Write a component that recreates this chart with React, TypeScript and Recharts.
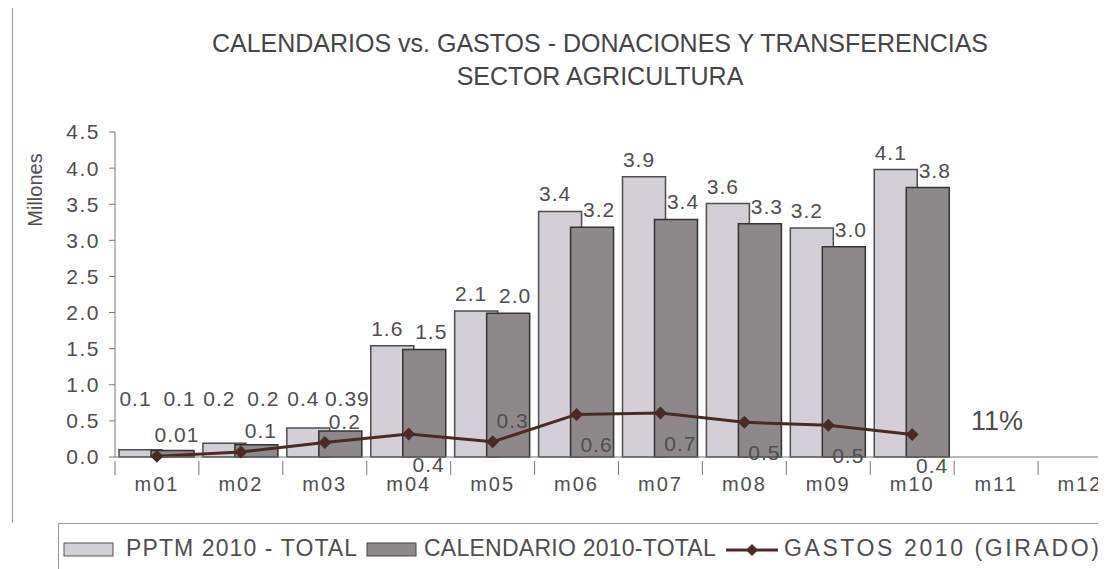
import { ComposedChart, Bar, Line, XAxis, YAxis, LabelList } from 'recharts';

const months = ['m01', 'm02', 'm03', 'm04', 'm05', 'm06', 'm07', 'm08', 'm09', 'm10', 'm11', 'm12'];
const pptm = [0.1, 0.19, 0.4, 1.54, 2.02, 3.4, 3.88, 3.51, 3.17, 3.98, null, null];
const calendario = [0.09, 0.17, 0.36, 1.49, 1.99, 3.18, 3.29, 3.23, 2.91, 3.73, null, null];
const gastos = [0.01, 0.07, 0.2, 0.32, 0.21, 0.59, 0.61, 0.48, 0.44, 0.31, null, null];
const pptmLabels = ['0.1', '0.2', '0.4', '1.6', '2.1', '3.4', '3.9', '3.6', '3.2', '4.1', '', ''];
const calLabels = ['0.1', '0.2', '0.39', '1.5', '2.0', '3.2', '3.4', '3.3', '3.0', '3.8', '', ''];
const gastosLabels = ['0.01', '0.1', '0.2', '0.4', '0.3', '0.6', '0.7', '0.5', '0.5', '0.4', '', ''];
const yTicks = [0, 0.5, 1, 1.5, 2, 2.5, 3, 3.5, 4, 4.5];

const data = months.map((m, i) => ({
  month: m,
  pptm: pptm[i],
  cal: calendario[i],
  gastos: gastos[i],
  pptmLabel: pptmLabels[i],
  calLabel: calLabels[i],
  gastosLabel: gastosLabels[i],
}));

const FONT = '"Liberation Sans", Arial, sans-serif';
const TEXT = '#4e4e4e';
const PPTM_FILL = '#d2cfd6';
const CAL_FILL = '#8d898b';
const LINE = '#4a2a24';
const BAND = (1114 - 107) / months.length;
const AXIS_Y = 449;

const XTick = (props: any) => {
  const { x, y, payload } = props;
  return (
    <g>
      <line x1={x - BAND / 2} x2={x - BAND / 2} y1={y - 4} y2={y + 10} stroke="#777" />
      <text x={x} y={y + 26} textAnchor="middle" fontSize={20} fill={TEXT} fontFamily={FONT} letterSpacing={2}>
        {payload.value}
      </text>
    </g>
  );
};

// bar labels sit above the bar, lifted clear of the line for the small bars
const makeBarLabel = (dx: number) => (props: any) => {
  const { x, y, width, value } = props;
  if (!value) return null;
  return (
    <text
      x={x + width / 2 + dx}
      y={Math.min(y - 10, 398)}
      textAnchor="middle"
      fontSize={21}
      fill={TEXT}
      fontFamily={FONT}
      letterSpacing={1}
    >
      {value}
    </text>
  );
};
const pptmLabel = makeBarLabel(-5);
const calLabel = makeBarLabel(7);

const lineLabel = (props: any) => {
  const { x, y, value } = props;
  if (!value) return null;
  const below = y + 38;
  const ty = below > AXIS_Y + 17 ? y - 14 : below;
  return (
    <text x={x + 20} y={ty} textAnchor="middle" fontSize={21} fill={TEXT} fontFamily={FONT} letterSpacing={1}>
      {value}
    </text>
  );
};

const Diamond = (props: any) => {
  const { cx, cy, index } = props;
  if (cx == null || cy == null || props.value == null) return <g key={index} />;
  const r = 6.5;
  return (
    <polygon
      key={index}
      points={`${cx},${cy - r} ${cx + r},${cy} ${cx},${cy + r} ${cx - r},${cy}`}
      fill={LINE}
    />
  );
};

const legendText = { position: 'absolute' as const, top: 11, fontSize: 23 };

const LegendBox = () => (
  <div
    style={{
      position: 'absolute',
      left: 50,
      top: 515,
      width: 1100,
      height: 60,
      borderTop: '1px solid #9a9a9a',
      borderLeft: '1px solid #9a9a9a',
      fontFamily: FONT,
      color: TEXT,
      whiteSpace: 'nowrap',
    }}
  >
    <svg width={52} height={16} style={{ position: 'absolute', left: 4, top: 18 }}>
      <rect x={1} y={1} width={49} height={13} fill={PPTM_FILL} stroke="#555" />
    </svg>
    <span style={{ ...legendText, left: 67, letterSpacing: 1.1 }}>PPTM 2010 - TOTAL</span>
    <svg width={52} height={16} style={{ position: 'absolute', left: 307, top: 18 }}>
      <rect x={1} y={1} width={49} height={13} fill={CAL_FILL} stroke="#444" />
    </svg>
    <span style={{ ...legendText, left: 365, letterSpacing: 0.25 }}>CALENDARIO 2010-TOTAL</span>
    <svg width={52} height={16} style={{ position: 'absolute', left: 667, top: 18 }}>
      <line x1={0} x2={52} y1={8} y2={8} stroke={LINE} strokeWidth={3} />
      <polygon points="26,2 32,8 26,14 20,8" fill={LINE} />
    </svg>
    <span style={{ ...legendText, left: 725, letterSpacing: 2.6 }}>GASTOS 2010 (GIRADO)</span>
  </div>
);

export default function App() {
  return (
    <div style={{ position: 'relative', width: 1098, height: 561, overflow: 'hidden', background: '#fff' }}>
      <div style={{ position: 'absolute', left: 4, top: 0, width: 1, height: 515, background: '#9a9a9a' }} />
      <div
        style={{
          position: 'absolute',
          left: 592,
          top: 19,
          transform: 'translateX(-50%)',
          textAlign: 'center',
          whiteSpace: 'nowrap',
          fontFamily: '"Liberation Sans Narrow", "Liberation Sans", Arial, sans-serif',
          fontSize: 25,
          lineHeight: '33px',
          color: '#454545',
        }}
      >
        CALENDARIOS vs. GASTOS - DONACIONES Y TRANSFERENCIAS
        <br />
        SECTOR AGRICULTURA
      </div>
      <ComposedChart
        width={1130}
        height={561}
        data={data}
        margin={{ top: 124, right: 16, bottom: 72, left: 47 }}
        barSize={43}
        barGap={-11}
      >
        <XAxis
          dataKey="month"
          height={40}
          tick={<XTick />}
          tickLine={false}
          axisLine={{ stroke: '#777' }}
          interval={0}
        />
        <YAxis
          width={60}
          domain={[0, 4.5]}
          ticks={yTicks}
          tickFormatter={(v: number) => v.toFixed(1)}
          tick={{ fontSize: 21, fill: TEXT, fontFamily: FONT, letterSpacing: 1.5 }}
          tickSize={6}
          tickMargin={9}
          axisLine={{ stroke: '#777' }}
          tickLine={{ stroke: '#777' }}
          label={() => (
            <text
              x={29}
              y={182}
              transform="rotate(-90, 29, 182)"
              textAnchor="middle"
              dominantBaseline="middle"
              fontSize={20}
              fill={TEXT}
              fontFamily={FONT}
            >
              Millones
            </text>
          )}
        />
        <Bar dataKey="pptm" fill={PPTM_FILL} stroke="#4d4d4d" strokeWidth={1.5} isAnimationActive={false}>
          <LabelList dataKey="pptmLabel" content={pptmLabel} />
        </Bar>
        <Bar dataKey="cal" fill={CAL_FILL} stroke="#333" strokeWidth={1.5} isAnimationActive={false}>
          <LabelList dataKey="calLabel" content={calLabel} />
        </Bar>
        <Line
          dataKey="gastos"
          stroke={LINE}
          strokeWidth={3}
          dot={<Diamond />}
          activeDot={false}
          isAnimationActive={false}
        >
          <LabelList dataKey="gastosLabel" content={lineLabel} />
        </Line>
      </ComposedChart>
      <div
        style={{
          position: 'absolute',
          left: 989,
          top: 398,
          transform: 'translateX(-50%)',
          fontFamily: FONT,
          fontSize: 27,
          color: TEXT,
        }}
      >
        11%
      </div>
      <LegendBox />
    </div>
  );
}
